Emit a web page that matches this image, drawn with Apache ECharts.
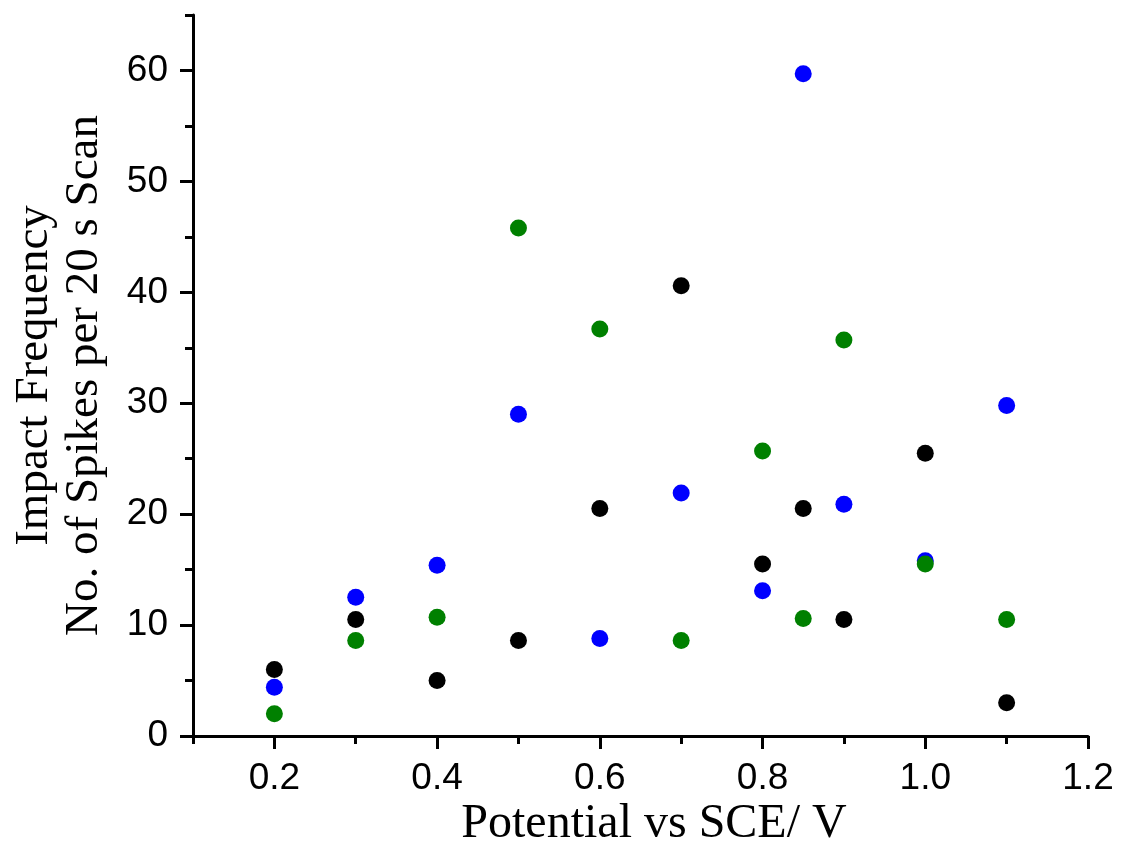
<!DOCTYPE html>
<html>
<head>
<meta charset="utf-8">
<script src="https://cdn.jsdelivr.net/npm/echarts@6/dist/echarts.min.js"></script>
<style>
html,body{margin:0;padding:0;background:#fff;overflow:hidden;}
#chart{position:absolute;left:0;top:0;width:1122px;height:843px;}
</style>
</head>
<body>
<div id="chart"></div>
<script>
// Data
const potentials = [0.2, 0.3, 0.4, 0.5, 0.6, 0.7, 0.8, 0.85, 0.9, 1.0, 1.1];
const blackSeries = [6.0, 10.5, 5.0, 8.6, 20.5, 40.6, 15.5, 20.5, 10.5, 25.5, 3.0];
const blueSeries  = [4.4, 12.5, 15.4, 29.0, 8.8, 21.9, 13.1, 59.7, 20.9, 15.8, 29.8];
const greenSeries = [2.0, 8.6, 10.7, 45.8, 36.7, 8.6, 25.7, 10.6, 35.7, 15.5, 10.5];
const xTickLabels = ['0.2', '0.4', '0.6', '0.8', '1.0', '1.2'];
const yTickLabels = ['0', '10', '20', '30', '40', '50', '60'];
const xTitle = 'Potential vs SCE/ V';
const yTitle = 'Impact Frequency\nNo. of Spikes per 20 s Scan';

const pairs = vals => potentials.map((x, i) => [x, vals[i]]);

const X_MIN = 0.1, X_MAX = 1.2, Y_MAX = 65;
const L = 193, R = 34, T = 15, B = 107;
const W = 1122 - L - R, H = 843 - T - B;
const pxX = W / (X_MAX - X_MIN), pxY = H / Y_MAX;
const L2 = L + (0.2 - X_MIN) * pxX;
const T2 = T + (Y_MAX - 60) * pxY;

const lineStyle = {color: '#000', width: 3};
const labelFont = {color: '#000', fontFamily: '"Liberation Sans", Arial, sans-serif', fontSize: 37};
const titleFont = {color: '#000', fontFamily: '"Liberation Serif", "Times New Roman", serif'};

const chart = echarts.init(document.getElementById('chart'), null, {renderer: 'canvas', width: 1122, height: 843});
chart.setOption({
  animation: false,
  backgroundColor: '#fff',
  grid: [
    {left: L, right: R, top: T, bottom: B, containLabel: false, outerBoundsMode: 'none'},
    {left: L2, right: R, top: T2, bottom: B, containLabel: false, outerBoundsMode: 'none'}
  ],
  xAxis: [
    {
      type: 'value', gridIndex: 0, min: X_MIN, max: X_MAX, interval: 0.1,
      axisLine: {show: true, lineStyle: lineStyle, onZero: false},
      axisTick: {show: true, inside: false, length: 8, lineStyle: lineStyle},
      axisLabel: {show: false}, splitLine: {show: false},
      name: xTitle, nameLocation: 'middle', nameGap: 64,
      nameTextStyle: Object.assign({}, titleFont, {fontSize: 48, lineHeight: 48, padding: [0, 0, 0, 27]})
    },
    {
      type: 'value', gridIndex: 1, min: 0.2, max: X_MAX, interval: 0.2,
      axisLine: {show: false, onZero: false},
      axisTick: {show: true, inside: false, length: 13, lineStyle: lineStyle},
      axisLabel: Object.assign({}, labelFont, {margin: 24,
        formatter: v => { const s = v.toFixed(1); return xTickLabels.includes(s) ? s : ''; }}),
      splitLine: {show: false}
    }
  ],
  yAxis: [
    {
      type: 'value', gridIndex: 0, min: 0, max: Y_MAX, interval: 5,
      axisLine: {show: true, lineStyle: lineStyle, onZero: false},
      axisTick: {show: true, inside: false, length: 8, lineStyle: lineStyle},
      axisLabel: {show: false}, splitLine: {show: false},
      name: yTitle, nameLocation: 'middle', nameGap: 83, nameRotate: 90,
      nameTextStyle: Object.assign({}, titleFont, {fontSize: 47, lineHeight: 50, align: 'center'})
    },
    {
      type: 'value', gridIndex: 1, min: 0, max: 60, interval: 10, offset: L2 - L,
      axisLine: {show: false, onZero: false},
      axisTick: {show: true, inside: false, length: 13, lineStyle: lineStyle},
      axisLabel: Object.assign({}, labelFont, {margin: 25,
        formatter: v => { const s = String(Math.round(v)); return yTickLabels.includes(s) ? s : ''; }}),
      splitLine: {show: false}
    }
  ],
  series: [
    {type: 'scatter', xAxisIndex: 0, yAxisIndex: 0, data: pairs(blackSeries), symbolSize: 17,
      itemStyle: {color: '#000000', opacity: 1}, z: 2},
    {type: 'scatter', xAxisIndex: 0, yAxisIndex: 0, data: pairs(blueSeries), symbolSize: 17,
      itemStyle: {color: '#0000ff', opacity: 1}, z: 3},
    {type: 'scatter', xAxisIndex: 0, yAxisIndex: 0, data: pairs(greenSeries), symbolSize: 17,
      itemStyle: {color: '#008000', opacity: 1}, z: 4}
  ]
});
</script>
</body>
</html>
